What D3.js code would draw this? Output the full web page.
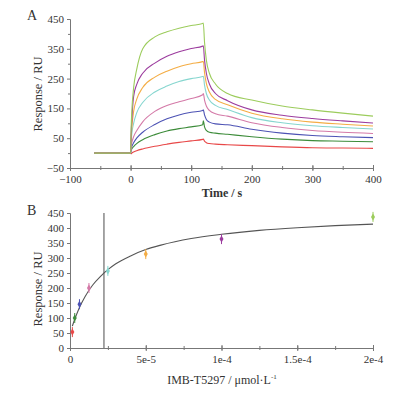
<!DOCTYPE html>
<html>
<head>
<meta charset="utf-8">
<script src="https://cdn.jsdelivr.net/npm/d3@7"></script>
<style>
  html, body { margin: 0; padding: 0; background: #fff; }
  svg { display: block; }
  text { font-family: "Liberation Serif", "DejaVu Serif", serif; fill: #333; }
</style>
</head>
<body>
<div id="chart"></div>
<script>
// ---- data: panel A, sensorgrams ----
const colors = ['#e84848', '#3d8c3a', '#4c52b4', '#d47aa8', '#86d6cf', '#f4ad45', '#9c3c9e', '#9ccc5c'];
const baseTimes = [-60, 0];
const assocTimes = [1, 2, 5, 10, 20, 40, 60, 80, 100, 119];
const dissTimes = [120, 122, 125, 130, 140, 160, 200, 250, 300, 350, 400];

const assocRed     = [-2, 0, 4, 8, 14, 23, 30, 36, 41, 46];
const assocDkGreen = [10, 14, 22, 32, 45, 62, 74, 82, 88, 95];
const assocBlue    = [15, 22, 35, 50, 70, 96, 115, 128, 137, 143];
const assocPink    = [25, 35, 55, 75, 105, 140, 160, 172, 183, 196];
const assocCyan    = [40, 65, 100, 135, 170, 205, 225, 240, 250, 257];
const assocOrange  = [55, 85, 140, 180, 220, 255, 275, 290, 300, 307];
const assocPurple  = [70, 110, 190, 230, 268, 302, 325, 340, 351, 359];
const assocGreen   = [90, 140, 220, 280, 350, 390, 407, 419, 428, 435];

const dissRed     = [47, 40, 35, 32, 30, 28, 25, 21, 18, 17, 16];
const dissDkGreen = [108, 88, 76, 70, 67, 63, 55, 47, 42, 40, 38];
const dissBlue    = [145, 128, 113, 104, 98, 95, 80, 67, 59, 55, 52];
const dissPink    = [200, 178, 158, 143, 132, 124, 102, 86, 76, 70, 66];
const dissCyan    = [258, 228, 200, 178, 160, 146, 119, 102, 92, 86, 81];
const dissOrange  = [308, 270, 234, 205, 180, 162, 134, 115, 104, 97, 91];
const dissPurple  = [360, 312, 268, 232, 200, 176, 145, 127, 116, 108, 101];
const dissGreen   = [436, 372, 312, 268, 232, 200, 178, 158, 145, 134, 124];

const assocAll = [assocRed, assocDkGreen, assocBlue, assocPink, assocCyan, assocOrange, assocPurple, assocGreen];
const dissAll = [dissRed, dissDkGreen, dissBlue, dissPink, dissCyan, dissOrange, dissPurple, dissGreen];

const xTicksA = [-100, 0, 100, 200, 300, 400];
const yTicksA = [-50, 50, 150, 250, 350, 450];

// ---- data: panel B, steady-state response vs concentration ----
const conc = [1.5625e-6, 3.125e-6, 6.25e-6, 1.25e-5, 2.5e-5, 5e-5, 1e-4, 2e-4];
const resp = [53, 100, 146, 200, 257, 313, 363, 437];
const fitConc = [1.56e-6, 3e-6, 5e-6, 7.5e-6, 1e-5, 1.5e-5, 2e-5, 2.5e-5, 3e-5, 4e-5, 5e-5, 6e-5, 8e-5, 1e-4, 1.25e-4, 1.5e-4, 1.75e-4, 2e-4];
const fitResp = [73, 94, 120, 148, 172, 210, 238, 261, 280, 307, 328, 343, 365, 379, 392, 401, 408, 413];
const kd = 2.24e-5;
const xTicksB = [0, 5e-5, 1e-4, 1.5e-4, 2e-4];
const xTickLabelsB = ['0', '5e-5', '1e-4', '1.5e-4', '2e-4'];
const yTicksB = [0, 50, 100, 150, 200, 250, 300, 350, 400, 450];

const W = 406, H = 393;
const svg = d3.select('#chart').append('svg').attr('width', W).attr('height', H);
const axisColor = '#777';

function styleAxis(g) {
  g.selectAll('path.domain').attr('stroke', axisColor).attr('stroke-width', 1);
  g.selectAll('.tick line').attr('stroke', axisColor);
  g.selectAll('.tick text').attr('font-size', 11).attr('fill', '#333')
    .attr('font-family', '"Liberation Serif", serif');
}

// ===== Panel A =====
const xA = d3.scaleLinear().domain([-100, 400]).range([70, 373]);
const yA = d3.scaleLinear().domain([-50, 450]).range([168, 19]);
const gA = svg.append('g');

gA.append('g').attr('transform', `translate(0,${yA(-50)})`)
  .call(d3.axisBottom(xA).tickValues(d3.range(-100, 401, 50)).tickSize(0).tickFormat(''))
  .call(g => g.selectAll('.tick line').attr('y1', -2).attr('y2', 2))
  .call(styleAxis);
gA.append('g').attr('transform', `translate(0,${yA(-50)})`)
  .call(d3.axisBottom(xA).tickValues(xTicksA).tickSize(3).tickPadding(4))
  .call(g => g.selectAll('.tick line').attr('y1', -3))
  .call(g => g.select('path.domain').remove())
  .call(styleAxis);

gA.append('g').attr('transform', `translate(${xA(-100)},0)`)
  .call(d3.axisLeft(yA).tickValues(yTicksA).tickSize(3).tickPadding(3))
  .call(styleAxis);
gA.append('g').attr('transform', `translate(${xA(-100)},0)`)
  .call(d3.axisLeft(yA).tickValues([0, 100, 200, 300, 400]).tickSize(2).tickFormat(''))
  .call(g => g.select('path.domain').remove())
  .call(styleAxis);

const lineA = d3.line().x(d => xA(d[0])).y(d => yA(d[1])).curve(d3.curveMonotoneX);
const times = baseTimes.concat(assocTimes, dissTimes);
assocAll.forEach((a, i) => {
  const vals = [0, 0].concat(a, dissAll[i]);
  const pts = times.map((t, j) => [t, vals[j]]);
  gA.append('path').datum(pts)
    .attr('d', lineA).attr('fill', 'none')
    .attr('stroke', colors[i]).attr('stroke-width', 1.1);
});

gA.append('text').attr('x', 222).attr('y', 197).attr('text-anchor', 'middle')
  .attr('font-size', 12).attr('font-weight', 'bold').attr('fill', '#444').text('Time / s');
gA.append('text').attr('transform', 'translate(42,94) rotate(-90)').attr('text-anchor', 'middle')
  .attr('font-size', 12.5).text('Response / RU');
gA.append('text').attr('x', 27).attr('y', 20).attr('font-size', 14).text('A');

// ===== Panel B =====
const xB = d3.scaleLinear().domain([0, 2e-4]).range([70, 373]);
const yB = d3.scaleLinear().domain([0, 450]).range([348, 213]);
const gB = svg.append('g');

gB.append('g').attr('transform', `translate(0,${yB(0)})`)
  .call(d3.axisBottom(xB).tickValues(d3.range(0, 9).map(k => k * 2.5e-5)).tickSize(0).tickFormat(''))
  .call(g => g.selectAll('.tick line').attr('y1', -2).attr('y2', 2))
  .call(styleAxis);
gB.append('g').attr('transform', `translate(0,${yB(0)})`)
  .call(d3.axisBottom(xB).tickValues(xTicksB).tickSize(3).tickPadding(4)
    .tickFormat((d, i) => xTickLabelsB[i]))
  .call(g => g.selectAll('.tick line').attr('y1', -3))
  .call(g => g.select('path.domain').remove())
  .call(styleAxis);

gB.append('g').attr('transform', `translate(${xB(0)},0)`)
  .call(d3.axisLeft(yB).tickValues(yTicksB).tickSize(3).tickPadding(3))
  .call(styleAxis);

gB.append('line')
  .attr('x1', xB(kd)).attr('x2', xB(kd))
  .attr('y1', yB(0)).attr('y2', yB(450))
  .attr('stroke', '#888').attr('stroke-width', 1.5);

const lineB = d3.line().x(d => xB(d[0])).y(d => yB(d[1])).curve(d3.curveMonotoneX);
gB.append('path').datum(fitConc.map((c, i) => [c, fitResp[i]]))
  .attr('d', lineB).attr('fill', 'none').attr('stroke', '#555').attr('stroke-width', 1.1);

const pts = gB.selectAll('g.pt').data(conc.map((c, i) => ({c, r: resp[i], col: colors[i]})))
  .join('g').attr('class', 'pt')
  .attr('transform', d => `translate(${xB(d.c)},${yB(d.r)})`);
pts.append('line').attr('y1', -5).attr('y2', 5).attr('stroke', d => d.col).attr('stroke-width', 1);
pts.append('path').attr('d', 'M0,-3.5L2,0L0,3.5L-2,0Z').attr('fill', d => d.col);

gB.append('text').attr('x', 222).attr('y', 384).attr('text-anchor', 'middle')
  .attr('font-size', 12).attr('fill', '#444')
  .html('IMB-T5297 / μmol·L<tspan dy="-5" font-size="7">-1</tspan>');
gB.append('text').attr('transform', 'translate(42,289) rotate(-90)').attr('text-anchor', 'middle')
  .attr('font-size', 12.5).text('Response / RU');
gB.append('text').attr('x', 27).attr('y', 215).attr('font-size', 14).text('B');
</script>
</body>
</html>
